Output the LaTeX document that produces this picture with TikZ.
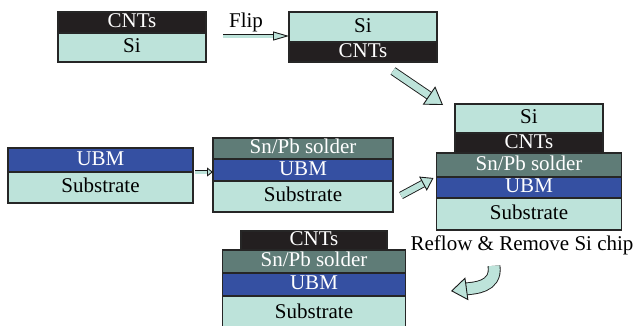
\documentclass[tikz,border=0pt]{standalone}
\usepackage{fontspec}
\setmainfont{Liberation Serif}
\usepackage{xcolor}
\definecolor{siteal}{HTML}{BDE3DA}
\definecolor{cntblack}{HTML}{231F20}
\definecolor{ubmblue}{HTML}{3550A2}
\definecolor{soldgray}{HTML}{5F7C77}
\usetikzlibrary{positioning,arrows.meta,calc}
\tikzset{
  layer/.style={rectangle, draw=black!85, line width=1.5pt, inner sep=0pt, outer sep=0pt,
                text height=13pt, text depth=3pt, font=\fontsize{21}{21}\selectfont},
  lsi/.style  ={layer, fill=siteal},
  lcnt/.style ={layer, fill=cntblack, text=white},
  lubm/.style ={layer, fill=ubmblue, text=white},
  lsol/.style ={layer, fill=soldgray, text=white},
  lsub/.style ={layer, fill=siteal},
  lsz/.style 2 args={minimum width=#1pt, minimum height=#2pt},
  fat/.style n args={3}{draw=black!90, line width=0.9pt, double=siteal, double distance=#1,
                -{Triangle[length=#2, width=#3, fill=siteal]}},
  lbl/.style  ={font=\fontsize{21}{21}\selectfont, inner sep=1pt},
}

\begin{document}
\begin{tikzpicture}[x=1pt, y=-1pt]
  \clip (0,0) rectangle (637,325);
  \fill[white] (0,0) rectangle (637,325);
  % chip with CNTs
  \node[lcnt, lsz={148}{21}, anchor=north west] (aCnt) at (58,12) {CNTs};
  \node[lsi,  lsz={148}{29}, below=0pt of aCnt] (aSi) {Si};
  % flipped chip
  \node[lsi,  lsz={148}{30}, anchor=north west] (bSi) at (289,12) {Si};
  \node[lcnt, lsz={148}{20}, below=0pt of bSi] (bCnt) {CNTs};
  % substrate with UBM
  \node[lubm, lsz={185}{24}, anchor=north west] (dUbm) at (8,148) {UBM};
  \node[lsub, lsz={185}{31}, below=0pt of dUbm] (dSub) {Substrate};
  % solder printed
  \node[lsol, lsz={180}{21}, anchor=north west] (eSol) at (213,138) {Sn/Pb solder};
  \node[lubm, lsz={180}{22}, below=0pt of eSol] (eUbm) {UBM};
  \node[lsub, lsz={180}{31}, below=0pt of eUbm] (eSub) {Substrate};
  % assembled stack
  \node[lsi,  lsz={148}{29}, anchor=north west] (cSi) at (455,104) {Si};
  \node[lcnt, lsz={148}{20}, below=0pt of cSi] (cCnt) {CNTs};
  \node[lsol, lsz={185}{24}, below=0pt of cCnt] (cSol) {Sn/Pb solder};
  \node[lubm, lsz={185}{21}, below=0pt of cSol] (cUbm) {UBM};
  \node[lsub, lsz={185}{32}, below=0pt of cUbm] (cSub) {Substrate};
  % after reflow
  \node[lcnt, lsz={146}{19}, anchor=north west] (fCnt) at (241,231) {CNTs};
  \node[lsol, lsz={183}{23}, below=0pt of fCnt] (fSol) {Sn/Pb solder};
  \node[lubm, lsz={183}{23}, below=0pt of fSol] (fUbm) {UBM};
  \node[lsub, lsz={183}{34}, below=0pt of fUbm] (fSub) {Substrate};

  \node[lbl] (flip) at (246,22) {Flip};
  \node[lbl] (reflow) at (522,245) {Reflow \& Remove Si chip};
  \coordinate (curveEnd) at (451,291);

  \draw[fat={3pt}{16pt}{9pt}] ([xshift=17pt, yshift=-3pt]aCnt.south east) -- ([yshift=6pt]bSi.south west);
  \draw[fat={7pt}{17pt}{22pt}] ([xshift=-44pt, yshift=-9pt]bCnt.south east) -- ([xshift=-12pt, yshift=-1pt]cSi.north west);
  \draw[fat={3pt}{6pt}{9pt}] ([xshift=2pt]dUbm.south east) -- (dUbm.south east -| eUbm.west);
  \draw[fat={6pt}{12pt}{16pt}] ([xshift=8pt, yshift=1pt]eSub.east) -- ([xshift=-3pt, yshift=-1pt]cSol.south west);
  \draw[fat={11pt}{16pt}{23pt}] ([xshift=-28pt, yshift=-10pt]reflow.south)
    .. controls +(3,22) and +(22,-3) .. (curveEnd);
\end{tikzpicture}
\end{document}
